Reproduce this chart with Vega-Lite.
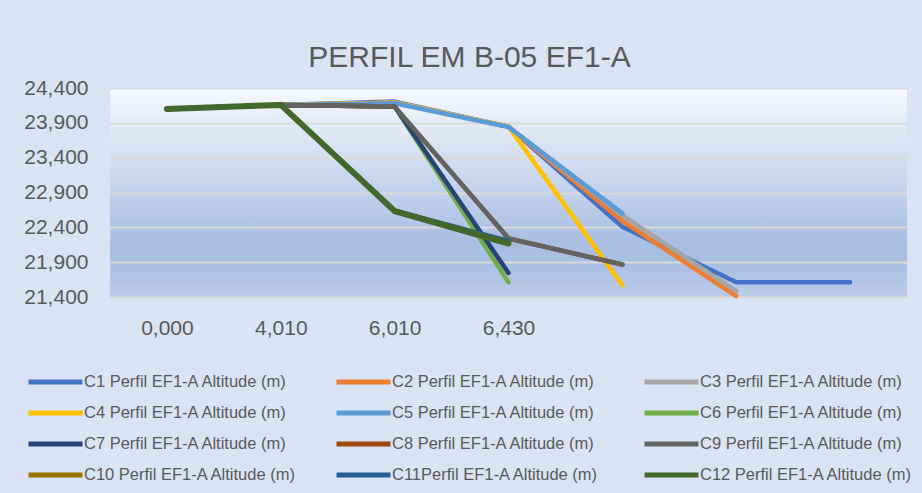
{
  "$schema": "https://vega.github.io/schema/vega-lite/v6.json",
  "width": 797,
  "height": 209,
  "autosize": "none",
  "padding": {"left": 110, "top": 88, "right": 15, "bottom": 196},
  "background": "#DAE3F3",
  "title": {
    "text": "PERFIL EM B-05 EF1-A",
    "anchor": "middle",
    "dx": -39,
    "baseline": "alphabetic",
    "offset": -20,
    "font": "Liberation Sans",
    "fontSize": 30,
    "fontWeight": "normal",
    "color": "#595959"
  },
  "data": {
    "values": [
      {"serie": "C1 Perfil EF1-A Altitude (m)", "dist": "0,000", "alt": 24.100},
      {"serie": "C1 Perfil EF1-A Altitude (m)", "dist": "4,010", "alt": 24.157},
      {"serie": "C1 Perfil EF1-A Altitude (m)", "dist": "6,010", "alt": 24.205},
      {"serie": "C1 Perfil EF1-A Altitude (m)", "dist": "6,430", "alt": 23.845},
      {"serie": "C1 Perfil EF1-A Altitude (m)", "dist": " ", "alt": 22.407},
      {"serie": "C1 Perfil EF1-A Altitude (m)", "dist": "  ", "alt": 21.611},
      {"serie": "C1 Perfil EF1-A Altitude (m)", "dist": "   ", "alt": 21.611},
      {"serie": "C2 Perfil EF1-A Altitude (m)", "dist": "0,000", "alt": 24.100},
      {"serie": "C2 Perfil EF1-A Altitude (m)", "dist": "4,010", "alt": 24.157},
      {"serie": "C2 Perfil EF1-A Altitude (m)", "dist": "6,010", "alt": 24.193},
      {"serie": "C2 Perfil EF1-A Altitude (m)", "dist": "6,430", "alt": 23.845},
      {"serie": "C2 Perfil EF1-A Altitude (m)", "dist": " ", "alt": 22.490},
      {"serie": "C2 Perfil EF1-A Altitude (m)", "dist": "  ", "alt": 21.414},
      {"serie": "C3 Perfil EF1-A Altitude (m)", "dist": "0,000", "alt": 24.100},
      {"serie": "C3 Perfil EF1-A Altitude (m)", "dist": "4,010", "alt": 24.157},
      {"serie": "C3 Perfil EF1-A Altitude (m)", "dist": "6,010", "alt": 24.190},
      {"serie": "C3 Perfil EF1-A Altitude (m)", "dist": "6,430", "alt": 23.845},
      {"serie": "C3 Perfil EF1-A Altitude (m)", "dist": " ", "alt": 22.570},
      {"serie": "C3 Perfil EF1-A Altitude (m)", "dist": "  ", "alt": 21.486},
      {"serie": "C4 Perfil EF1-A Altitude (m)", "dist": "0,000", "alt": 24.100},
      {"serie": "C4 Perfil EF1-A Altitude (m)", "dist": "4,010", "alt": 24.157},
      {"serie": "C4 Perfil EF1-A Altitude (m)", "dist": "6,010", "alt": 24.190},
      {"serie": "C4 Perfil EF1-A Altitude (m)", "dist": "6,430", "alt": 23.845},
      {"serie": "C4 Perfil EF1-A Altitude (m)", "dist": " ", "alt": 21.568},
      {"serie": "C5 Perfil EF1-A Altitude (m)", "dist": "0,000", "alt": 24.100},
      {"serie": "C5 Perfil EF1-A Altitude (m)", "dist": "4,010", "alt": 24.157},
      {"serie": "C5 Perfil EF1-A Altitude (m)", "dist": "6,010", "alt": 24.180},
      {"serie": "C5 Perfil EF1-A Altitude (m)", "dist": "6,430", "alt": 23.840},
      {"serie": "C5 Perfil EF1-A Altitude (m)", "dist": " ", "alt": 22.600},
      {"serie": "C6 Perfil EF1-A Altitude (m)", "dist": "0,000", "alt": 24.100},
      {"serie": "C6 Perfil EF1-A Altitude (m)", "dist": "4,010", "alt": 24.157},
      {"serie": "C6 Perfil EF1-A Altitude (m)", "dist": "6,010", "alt": 24.133},
      {"serie": "C6 Perfil EF1-A Altitude (m)", "dist": "6,430", "alt": 21.611},
      {"serie": "C7 Perfil EF1-A Altitude (m)", "dist": "0,000", "alt": 24.100},
      {"serie": "C7 Perfil EF1-A Altitude (m)", "dist": "4,010", "alt": 24.157},
      {"serie": "C7 Perfil EF1-A Altitude (m)", "dist": "6,010", "alt": 24.133},
      {"serie": "C7 Perfil EF1-A Altitude (m)", "dist": "6,430", "alt": 21.745},
      {"serie": "C8 Perfil EF1-A Altitude (m)", "dist": "0,000", "alt": 24.100},
      {"serie": "C8 Perfil EF1-A Altitude (m)", "dist": "4,010", "alt": 24.157},
      {"serie": "C8 Perfil EF1-A Altitude (m)", "dist": "6,010", "alt": 24.133},
      {"serie": "C8 Perfil EF1-A Altitude (m)", "dist": "6,430", "alt": 22.240},
      {"serie": "C8 Perfil EF1-A Altitude (m)", "dist": " ", "alt": 21.866},
      {"serie": "C9 Perfil EF1-A Altitude (m)", "dist": "0,000", "alt": 24.100},
      {"serie": "C9 Perfil EF1-A Altitude (m)", "dist": "4,010", "alt": 24.157},
      {"serie": "C9 Perfil EF1-A Altitude (m)", "dist": "6,010", "alt": 24.133},
      {"serie": "C9 Perfil EF1-A Altitude (m)", "dist": "6,430", "alt": 22.240},
      {"serie": "C9 Perfil EF1-A Altitude (m)", "dist": " ", "alt": 21.866},
      {"serie": "C10 Perfil EF1-A Altitude (m)", "dist": "0,000", "alt": 24.100},
      {"serie": "C10 Perfil EF1-A Altitude (m)", "dist": "4,010", "alt": 24.157},
      {"serie": "C10 Perfil EF1-A Altitude (m)", "dist": "6,010", "alt": 22.633},
      {"serie": "C10 Perfil EF1-A Altitude (m)", "dist": "6,430", "alt": 22.168},
      {"serie": "C11Perfil EF1-A Altitude (m)", "dist": "0,000", "alt": 24.100},
      {"serie": "C11Perfil EF1-A Altitude (m)", "dist": "4,010", "alt": 24.157},
      {"serie": "C11Perfil EF1-A Altitude (m)", "dist": "6,010", "alt": 22.640},
      {"serie": "C11Perfil EF1-A Altitude (m)", "dist": "6,430", "alt": 22.205},
      {"serie": "C12 Perfil EF1-A Altitude (m)", "dist": "0,000", "alt": 24.100},
      {"serie": "C12 Perfil EF1-A Altitude (m)", "dist": "4,010", "alt": 24.157},
      {"serie": "C12 Perfil EF1-A Altitude (m)", "dist": "6,010", "alt": 22.633},
      {"serie": "C12 Perfil EF1-A Altitude (m)", "dist": "6,430", "alt": 22.168}
    ]
  },
  "mark": {"type": "line", "strokeCap": "round", "strokeJoin": "round"},
  "encoding": {
    "x": {
      "field": "dist",
      "type": "ordinal",
      "title": null,
      "scale": {"type": "point", "padding": 0.5, "domain": ["0,000", "4,010", "6,010", "6,430", " ", "  ", "   "]},
      "axis": {"domain": false, "ticks": false, "grid": false, "labelAngle": 0, "labelPadding": 20, "labelFontSize": 21, "labelFont": "Liberation Sans", "labelColor": "#595959"}
    },
    "y": {
      "field": "alt",
      "type": "quantitative",
      "title": null,
      "scale": {"domain": [21.4, 24.4], "nice": false, "zero": false},
      "axis": {
        "values": [21.4, 21.9, 22.4, 22.9, 23.4, 23.9, 24.4],
        "labelExpr": "replace(format(datum.value, '.3f'), '.', ',')",
        "domain": false, "ticks": false, "labelPadding": 22,
        "labelFontSize": 21, "labelFont": "Liberation Sans", "labelColor": "#595959",
        "gridColor": "#D9D9D9", "gridWidth": 2
      }
    },
    "color": {
      "field": "serie",
      "type": "nominal",
      "title": null,
      "scale": {
        "domain": ["C1 Perfil EF1-A Altitude (m)", "C2 Perfil EF1-A Altitude (m)", "C3 Perfil EF1-A Altitude (m)", "C4 Perfil EF1-A Altitude (m)", "C5 Perfil EF1-A Altitude (m)", "C6 Perfil EF1-A Altitude (m)", "C7 Perfil EF1-A Altitude (m)", "C8 Perfil EF1-A Altitude (m)", "C9 Perfil EF1-A Altitude (m)", "C10 Perfil EF1-A Altitude (m)", "C11Perfil EF1-A Altitude (m)", "C12 Perfil EF1-A Altitude (m)"],
        "range": ["#4472C4", "#ED7D31", "#A5A5A5", "#FFC000", "#5B9BD5", "#70AD47", "#264478", "#9E480E", "#636363", "#997300", "#255E91", "#43682B"]
      },
      "legend": {
        "orient": "none",
        "legendX": -84,
        "legendY": 284,
        "columns": 3,
        "direction": "horizontal",
        "symbolType": "stroke",
        "symbolSize": 2916,
        "symbolStrokeWidth": 5,
        "clipHeight": 20,
        "labelOffset": -1,
        "labelFont": "Liberation Sans",
        "labelFontSize": 16.5,
        "labelColor": "#595959",
        "labelLimit": 400,
        "gridAlign": "all",
        "columnPadding": 37,
        "rowPadding": 11
      }
    },
    "strokeWidth": {
      "condition": {"test": "datum.serie === 'C12 Perfil EF1-A Altitude (m)'", "value": 6},
      "value": 4.5
    }
  },
  "config": {
    "view": {
      "stroke": null,
      "fill": {
        "gradient": "linear", "x1": 0, "y1": 0, "x2": 0, "y2": 1,
        "stops": [
          {"offset": 0, "color": "#F6F8FC"},
          {"offset": 0.74, "color": "#A9BEE3"},
          {"offset": 0.83, "color": "#A9BEE3"},
          {"offset": 1, "color": "#BCCBE9"}
        ]
      }
    }
  }
}
